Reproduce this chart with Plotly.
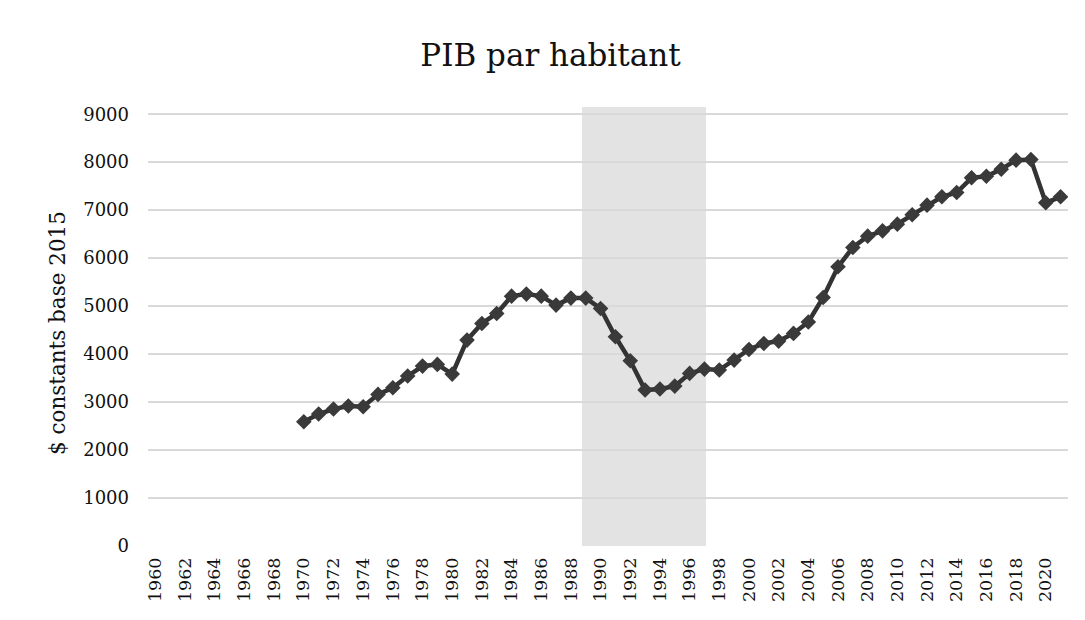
import plotly.graph_objects as go

years = list(range(1970, 2022))
gdp_per_capita = [
    2590, 2750, 2854, 2917, 2903, 3160, 3299, 3542, 3750, 3785,
    3583, 4292, 4639, 4847, 5208, 5250, 5208, 5021, 5167, 5167,
    4951, 4361, 3861, 3250, 3271, 3333, 3597, 3687, 3667, 3875,
    4097, 4222, 4271, 4431, 4670, 5181, 5819, 6222, 6458, 6569,
    6708, 6903, 7104, 7278, 7368, 7674, 7708, 7854, 8042, 8056,
    7153, 7278,
]
tick_years = list(range(1960, 2021, 2))
tick_labels = [str(y) for y in tick_years]
band_start, band_end, band_top = 1988.75, 1997.1, 9150

FONT = "DejaVu Serif"

fig = go.Figure()
fig.add_shape(type="rect", xref="x", yref="y", x0=band_start, x1=band_end,
              y0=0, y1=band_top, fillcolor="#e3e3e3", line_width=0, layer="below")
fig.add_trace(go.Scatter(
    x=years, y=gdp_per_capita, mode="lines+markers",
    line=dict(color="#333333", width=4.5),
    marker=dict(symbol="diamond", size=12, color="#3a3a3a"),
    showlegend=False,
))
fig.update_layout(
    width=1085, height=620,
    margin=dict(l=140, r=25, t=99, b=82),
    paper_bgcolor="white", plot_bgcolor="white",
    title=dict(text="PIB par habitant", x=0.5, xanchor="center", y=0.924, yanchor="middle",
               font=dict(family=FONT, size=31, color="#111111")),
    font=dict(family=FONT, color="#111111"),
)
fig.add_annotation(text="$ constants base 2015", xref="paper", yref="paper",
                   x=-0.0989, y=0.485, xanchor="center", yanchor="middle",
                   textangle=-90, showarrow=False,
                   font=dict(family=FONT, size=21.5, color="#111111"))
fig.update_xaxes(
    range=[1959.5, 2021.5], tickmode="array", tickvals=tick_years, ticktext=tick_labels,
    tickangle=-90, tickfont=dict(family=FONT, size=17.5, color="#111111"),
    ticklabelstandoff=7,
    showgrid=False, zeroline=False, showline=False, ticks="",
)
fig.update_yaxes(
    range=[0, band_top], tickmode="array", tickvals=list(range(0, 9001, 1000)),
    tickfont=dict(family=FONT, size=18, color="#111111"),
    ticklabelstandoff=18,
    showgrid=True, gridcolor="#d9d9d9", gridwidth=1.5, zeroline=False, showline=False,
    ticks="", ticklen=0,
)
fig.write_html("out.html")
